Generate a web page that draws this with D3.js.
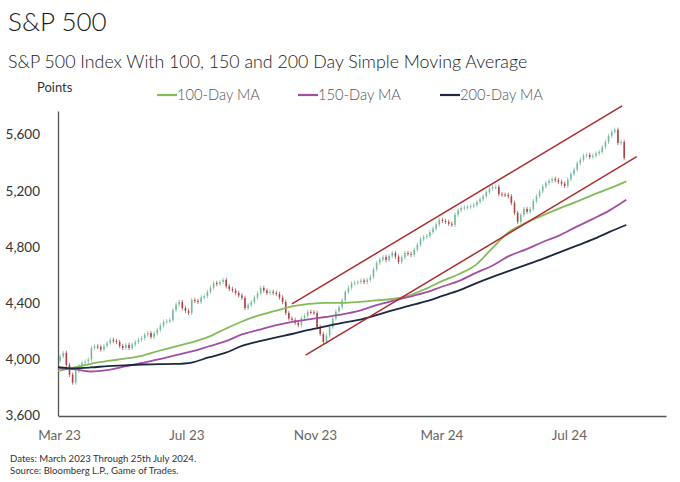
<!DOCTYPE html>
<html>
<head>
<meta charset="utf-8">
<script src="https://cdn.jsdelivr.net/npm/d3@7"></script>
<style>
  html, body { margin: 0; padding: 0; background: #ffffff; }
  svg { display: block; font-family: Lato, "Open Sans", sans-serif; }
</style>
</head>
<body>
<svg id="chart" width="680" height="482"></svg>
<script>
// ---------------- data ----------------
const yTickValues = [3600, 4000, 4400, 4800, 5200, 5600];
const xTickLabels = ["Mar 23", "Jul 23", "Nov 23", "Mar 24", "Jul 24"];
const xTickDates = ["2023-03-01", "2023-07-01", "2023-11-01", "2024-03-01", "2024-07-01"];

// candles: one every 3 calendar days, closes
const candleStart = "2023-02-27";
const candleStepDays = 3;
const openSeed = 3990;
const closes = [
  4020, 4045, 3960, 3890, 3835, 3915, 3950, 3975, 3985, 3998,
  4080, 4092, 4088, 4070, 4095, 4115, 4138, 4130, 4123, 4095,
  4081, 4102, 4081, 4105, 4123, 4140, 4152, 4175, 4187, 4159,
  4185, 4209, 4240, 4266, 4272, 4280, 4350, 4390, 4408, 4365,
  4345, 4330, 4422, 4415, 4408, 4440, 4450, 4479, 4510, 4543,
  4535, 4550, 4565, 4520, 4501, 4490, 4472, 4455, 4437, 4365,
  4387, 4408, 4440, 4470, 4508, 4490, 4472, 4480, 4472, 4465,
  4440, 4408, 4330, 4290, 4280, 4260, 4244, 4294, 4310, 4337,
  4335, 4330, 4230, 4180, 4123, 4170, 4230, 4290, 4340, 4370,
  4420, 4479, 4510, 4540, 4546, 4550, 4560, 4550, 4565, 4586,
  4640, 4686, 4710, 4728, 4707, 4735, 4757, 4730, 4693, 4725,
  4757, 4750, 4743, 4780, 4815, 4855, 4870, 4878, 4905, 4930,
  4960, 4992, 4985, 4978, 4965, 4957, 5030, 5060, 5077, 5080,
  5084, 5090, 5099, 5120, 5140, 5160, 5190, 5215, 5225, 5227,
  5175, 5172, 5170, 5160, 5113, 5042, 4978, 5028, 5070, 5050,
  5070, 5125, 5160, 5195, 5230, 5255, 5270, 5284, 5275, 5262,
  5250, 5234, 5280, 5319, 5350, 5395, 5420, 5450, 5455, 5440,
  5448, 5465, 5476, 5510, 5547, 5590, 5620, 5633, 5540, 5547,
  5433
];

// moving averages, sampled every 16 days
const maStart = "2023-02-28";
const maStepDays = 16;
const ma100 = [3917, 3942, 3970, 3988, 4004, 4024, 4059, 4091, 4120, 4159,
               4216, 4269, 4312, 4344, 4376, 4394, 4402, 4402, 4408, 4419,
               4429, 4454, 4501, 4558, 4607, 4672, 4793, 4907, 4971, 5024,
               5074, 5120, 5170, 5216, 5266];
const ma150 = [3938, 3928, 3913, 3925, 3949, 3974, 3999, 4027, 4056, 4091,
               4127, 4177, 4209, 4241, 4266, 4284, 4301, 4319, 4344, 4383,
               4415, 4444, 4476, 4518, 4558, 4615, 4668, 4736, 4782, 4835,
               4882, 4942, 4999, 5060, 5135];
const ma200 = [3945, 3936, 3942, 3952, 3957, 3963, 3965, 3967, 3977, 4013,
               4045, 4095, 4127, 4155, 4180, 4209, 4234, 4259, 4280, 4312,
               4348, 4380, 4412, 4451, 4490, 4540, 4586, 4629, 4672, 4714,
               4761, 4807, 4853, 4907, 4956];

// trend channel lines [date, value]
const channelUpper = [["2023-10-10", 4394], ["2024-08-21", 5804]];
const channelLower = [["2023-10-23", 4029], ["2024-09-04", 5443]];

const legendLabels = ["100-Day MA", "150-Day MA", "200-Day MA"];
const legendColors = ["#86bb5a", "#a24fa6", "#1d2941"];

// ---------------- drawing ----------------
const parse = d3.utcParse("%Y-%m-%d");
const svg = d3.select("#chart");

const x = d3.scaleUtc()
  .domain([parse("2023-02-28"), parse("2024-10-02")])
  .range([58, 666]);
const y = d3.scaleLinear()
  .domain([3600, 5767])
  .range([415.5, 111]);

// titles
svg.append("text").attr("x", 8).attr("y", 31)
  .attr("font-size", 26).attr("font-weight", 300).attr("fill", "#1a1a1a").text("S&P 500");
svg.append("text").attr("x", 8).attr("y", 68)
  .attr("font-size", 17.8).attr("font-weight", 300).attr("fill", "#1a1a1a")
  .text("S&P 500 Index With 100, 150 and 200 Day Simple Moving Average");
svg.append("text").attr("x", 37).attr("y", 92)
  .attr("font-size", 13).attr("fill", "#333").text("Points");

// legend
const legendX = [157, 298, 440];
legendLabels.forEach((lab, i) => {
  svg.append("line")
    .attr("x1", legendX[i]).attr("x2", legendX[i] + 20)
    .attr("y1", 95).attr("y2", 95)
    .attr("stroke", legendColors[i]).attr("stroke-width", 2.2);
  svg.append("text").attr("x", legendX[i] + 20).attr("y", 100)
    .attr("font-size", 14.7).attr("font-weight", 300).attr("fill", "#555").text(lab);
});

// axes
const yAxis = d3.axisLeft(y).tickValues(yTickValues)
  .tickSize(0).tickSizeOuter(0).tickPadding(18)
  .tickFormat(d3.format(","));
const gy = svg.append("g").attr("transform", "translate(58,0)").call(yAxis);
gy.select(".domain").attr("stroke", "#555").attr("stroke-width", 1.3);
gy.selectAll("text").attr("font-size", 13.5).attr("fill", "#333")
  .attr("font-family", "Lato, sans-serif");

const xAxis = d3.axisBottom(x).tickValues(xTickDates.map(parse))
  .tickSize(0).tickSizeOuter(0).tickPadding(14)
  .tickFormat((d, i) => xTickLabels[i]);
const gx = svg.append("g").attr("transform", "translate(0,416)").call(xAxis);
gx.select(".domain").attr("stroke", "#555").attr("stroke-width", 1.3);
gx.selectAll("text").attr("font-size", 13.5).attr("fill", "#666")
  .attr("font-family", "Lato, sans-serif");

// candles
const cStart = parse(candleStart);
const candles = closes.map((c, i) => ({
  date: d3.utcDay.offset(cStart, candleStepDays * (i + 1)),
  open: i === 0 ? openSeed : closes[i - 1],
  close: c
}));
const candleW = 1.6, wick = 2.2;
const gC = svg.append("g");
candles.forEach(d => {
  const up = d.close >= d.open;
  const col = up ? "#6fb894" : "#a8393b";
  const cx = x(d.date);
  const yTop = y(Math.max(d.open, d.close));
  const yBot = y(Math.min(d.open, d.close));
  gC.append("line").attr("x1", cx).attr("x2", cx)
    .attr("y1", yTop - wick).attr("y2", yBot + wick)
    .attr("stroke", col).attr("stroke-width", 0.8).attr("opacity", 0.85);
  gC.append("rect").attr("x", cx - candleW / 2).attr("width", candleW)
    .attr("y", yTop).attr("height", Math.max(1, yBot - yTop))
    .attr("fill", col).attr("opacity", 0.9);
});

// moving averages
const maDates = ma100.map((_, i) => d3.utcDay.offset(parse(maStart), maStepDays * i));
const line = d3.line().x((d, i) => x(maDates[i])).y(d => y(d)).curve(d3.curveMonotoneX);
[ma100, ma150, ma200].forEach((s, i) => {
  svg.append("path").attr("d", line(s)).attr("fill", "none")
    .attr("stroke", legendColors[i]).attr("stroke-width", 1.8);
});

// channel lines
const chLine = d3.line().x(d => x(parse(d[0]))).y(d => y(d[1]));
[channelUpper, channelLower].forEach(c => {
  svg.append("path").attr("d", chLine(c)).attr("fill", "none")
    .attr("stroke", "#b02c2c").attr("stroke-width", 1.5);
});

// footnotes
svg.append("text").attr("x", 10).attr("y", 462)
  .attr("font-size", 9.6).attr("fill", "#333")
  .text("Dates: March 2023 Through 25th July 2024.");
svg.append("text").attr("x", 10).attr("y", 474)
  .attr("font-size", 9.6).attr("fill", "#333")
  .text("Source: Bloomberg L.P., Game of Trades.");
</script>
</body>
</html>
